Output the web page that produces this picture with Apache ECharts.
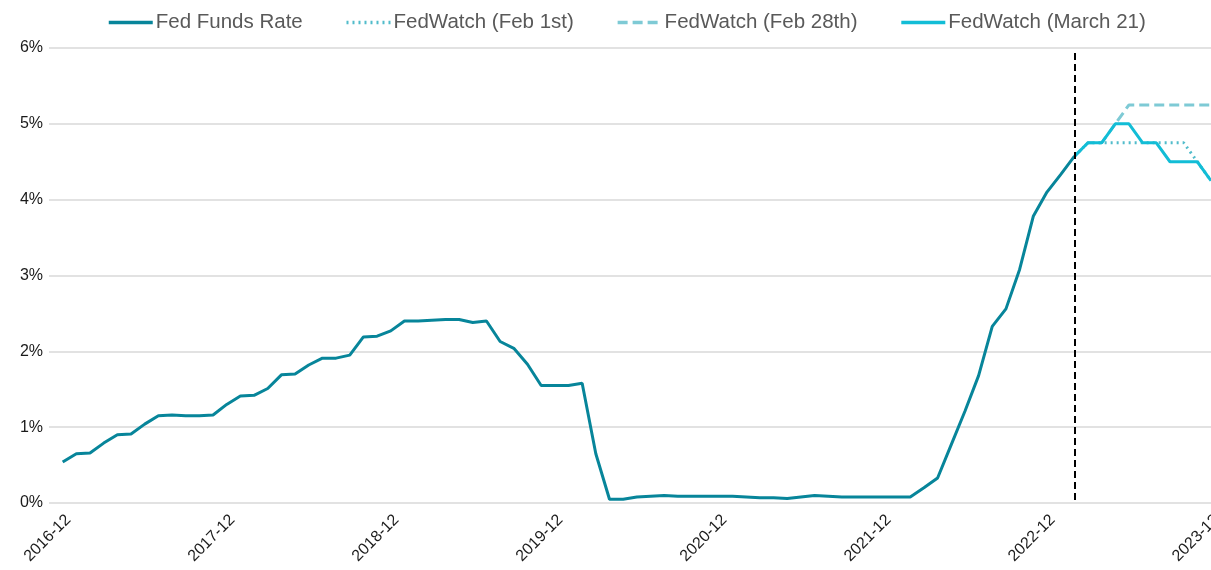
<!DOCTYPE html>
<html>
<head>
<meta charset="utf-8">
<title>Fed Funds Rate vs FedWatch</title>
<script src="https://cdn.jsdelivr.net/npm/echarts@6/dist/echarts.min.js"></script>
<style>
    html, body { margin: 0; padding: 0; background: #fff; }
    #chart { width: 1211px; height: 570px; }
</style>
</head>
<body>
<div id="chart"></div>
<script>
// months 2016-12 .. 2023-12
var months = [];
for (var y = 2016; y <= 2023; y++) {
    for (var m = 1; m <= 12; m++) {
        if (y === 2016 && m < 12) continue;
        months.push(y + '-' + (m < 10 ? '0' + m : m));
    }
}
var tickIndex = [0, 12, 24, 36, 48, 60, 72, 84];

// effective fed funds rate, 2016-12 .. 2023-02
var fedFunds = [
    0.54, 0.65, 0.66, 0.79, 0.90, 0.91, 1.04, 1.15, 1.16, 1.15, 1.15, 1.16,
    1.30, 1.41, 1.42, 1.51, 1.69, 1.70, 1.82, 1.91, 1.91, 1.95, 2.19, 2.20,
    2.27, 2.40, 2.40, 2.41, 2.42, 2.42, 2.38, 2.40, 2.13, 2.04, 1.83, 1.55,
    1.55, 1.55, 1.58, 0.65, 0.05, 0.05, 0.08, 0.09, 0.10, 0.09, 0.09, 0.09,
    0.09, 0.09, 0.08, 0.07, 0.07, 0.06, 0.08, 0.10, 0.09, 0.08, 0.08, 0.08,
    0.08, 0.08, 0.08, 0.20, 0.33, 0.77, 1.21, 1.68, 2.33, 2.56, 3.08, 3.78,
    4.10, 4.33, 4.57
];
// FedWatch paths, 2023-02 .. 2023-12
var forecastStart = 74;
var feb1 = [4.57, 4.75, 4.75, 4.75, 4.75, 4.75, 4.75, 4.75, 4.75, 4.50, 4.25];
var feb28 = [4.57, 4.75, 4.75, 5.00, 5.25, 5.25, 5.25, 5.25, 5.25, 5.25, 5.25];
var mar21 = [4.57, 4.75, 4.75, 5.00, 5.00, 4.75, 4.75, 4.50, 4.50, 4.50, 4.25];

function toPairs(arr, start) {
    var out = [];
    for (var i = 0; i < arr.length; i++) {
        out.push([start + i, arr[i]]);
    }
    return out;
}

var font = 'Arial, "Liberation Sans", sans-serif';
var chart = echarts.init(document.getElementById('chart'));

var option = {
    animation: false,
    color: ['#07859a', '#52bccb', '#7ecad5', '#12bdd6'],
    legend: {
        top: 7,
        left: 102,
        itemWidth: 44,
        itemHeight: 14,
        itemGap: 42,
        itemStyle: { opacity: 0 },
        lineStyle: { width: 3.5 },
        textStyle: {
            fontFamily: font,
            fontSize: 20.5,
            color: '#595959',
            padding: [0, 0, 0, -2]
        },
        data: ['Fed Funds Rate', 'FedWatch (Feb 1st)', 'FedWatch (Feb 28th)', 'FedWatch (March 21)']
    },
    grid: {
        left: 49,
        right: 0,
        top: 48,
        bottom: 67,
        outerBoundsMode: 'none',
        containLabel: false
    },
    xAxis: {
        type: 'value',
        min: -1,
        max: 84,
        axisLine: { show: false },
        axisTick: { show: false, customValues: tickIndex },
        splitLine: { show: false },
        axisLabel: {
            customValues: tickIndex,
            rotate: 45,
            margin: 20,
            padding: [0, -8, 0, 0],
            fontFamily: font,
            fontSize: 16,
            color: '#1a1a1a',
            formatter: function (v) { return months[v]; }
        }
    },
    yAxis: {
        type: 'value',
        min: 0,
        max: 6,
        interval: 1,
        axisLine: { show: false },
        axisTick: { show: false },
        axisLabel: {
            margin: 6,
            fontFamily: font,
            fontSize: 16,
            color: '#1a1a1a',
            formatter: '{value}%'
        },
        splitLine: {
            lineStyle: { color: '#d9d9d9', width: 1.5 }
        }
    },
    series: [
        {
            name: 'Fed Funds Rate',
            type: 'line',
            symbol: 'none',
            lineStyle: { width: 3 },
            data: toPairs(fedFunds, 0),
            markLine: {
                silent: true,
                symbol: 'none',
                label: { show: false },
                lineStyle: { color: '#000', type: [7, 4], width: 2 },
                data: [[{ coord: [forecastStart, 0.04] }, { coord: [forecastStart, 5.95] }]]
            }
        },
        {
            name: 'FedWatch (Feb 1st)',
            type: 'line',
            symbol: 'none',
            lineStyle: { width: 3, type: [2, 4] },
            data: toPairs(feb1, forecastStart)
        },
        {
            name: 'FedWatch (Feb 28th)',
            type: 'line',
            symbol: 'none',
            lineStyle: { width: 3, type: [10, 5] },
            data: toPairs(feb28, forecastStart)
        },
        {
            name: 'FedWatch (March 21)',
            type: 'line',
            symbol: 'none',
            lineStyle: { width: 3 },
            data: toPairs(mar21, forecastStart)
        }
    ]
};

chart.setOption(option);
</script>
</body>
</html>
